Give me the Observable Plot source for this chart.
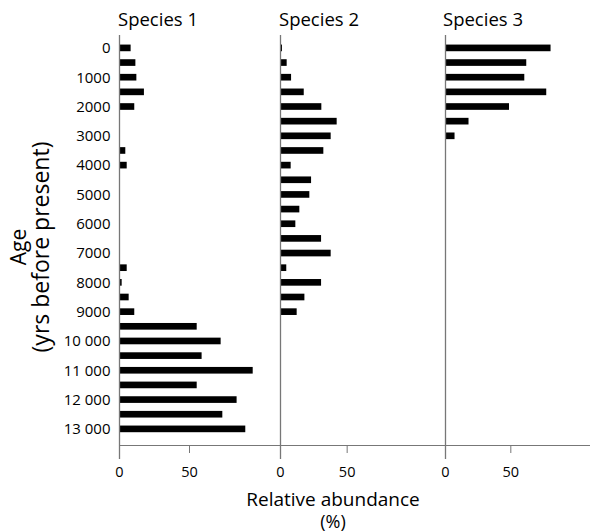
<!DOCTYPE html>
<html><head><meta charset="utf-8">
<script src="https://cdn.jsdelivr.net/npm/d3@7"></script>
<script src="https://cdn.jsdelivr.net/npm/@observablehq/plot@0.6"></script>
<style>
body{margin:0;background:#fff;font-family:"Open Sans",sans-serif;}
#chart{position:relative;width:590px;height:532px;overflow:hidden;background:#fff}
#chart svg{position:absolute;top:0;overflow:visible;background:none}
</style></head><body><div id="chart"></div>
<script>
// ---- data ----
const ages = [0,500,1000,1500,2000,2500,3000,3500,4000,4500,5000,5500,6000,6500,7000,7500,8000,8500,9000,9500,10000,10500,11000,11500,12000,12500,13000];
const species1 = [8.3,11.7,12.4,17.8,10.9,0,0,4.5,5.5,0,0,0,0,0,0,5.5,1.9,6.9,10.9,55.5,72.6,59,95.5,55.5,84,73.8,90.2];
const species2 = [1.5,5,8.3,17.8,31,42.5,38,32.5,8,23.3,22,14.5,11.5,30.8,38,4.7,30.8,18.3,12.5,0,0,0,0,0,0,0,0];
const species3 = [80.8,62.2,60.7,77.5,49,18,7.3,0,0,0,0,0,0,0,0,0,0,0,0,0,0,0,0,0,0,0,0];
const speciesNames = ["Species 1","Species 2","Species 3"];
const ageTicks = [0,1000,2000,3000,4000,5000,6000,7000,8000,9000,10000,11000,12000,13000];
const ageTickLabels = ["0","1000","2000","3000","4000","5000","6000","7000","8000","9000","10 000","11 000","12 000","13 000"];
const abundanceTicks = [0,50];
const yTitle = ["Age","(yrs before present)"];
const xTitle = ["Relative abundance","(%)"];

// ---- layout ----
const H = 532, TOP = 35, BOTTOM_Y = 445;
const yDomain = [-440, 13550];
const gray = "#777";
const font = '"Open Sans", sans-serif';
const panels = [
  {values: species1, left: 0,   width: 280, marginLeft: 119, xmax: 115,    yAxis: true},
  {values: species2, left: 270, width: 175, marginLeft: 10,  xmax: 123.75},
  {values: species3, left: 435, width: 155, marginLeft: 10,  xmax: 111}
];
const chart = document.getElementById("chart");

panels.forEach((p, i) => {
  const rows = ages.map((a, k) => ({age: a, v: p.values[k]})).filter(d => d.v > 0);
  const marks = [
    Plot.rectX(rows, {x1: 0, x2: "v", y1: d => d.age - 250, y2: d => d.age + 250, insetTop: 4, insetBottom: 4, fill: "#000"}),
    Plot.ruleY([yDomain[1]], {stroke: gray, strokeWidth: 1.2}),
    Plot.ruleX([0], {y1: yDomain[0], y2: 14030, stroke: gray, strokeWidth: 1.3}),
    Plot.axisX({ticks: abundanceTicks, tickSize: 8, tickPadding: 13, stroke: gray, fill: "#000", fontSize: 14.5, label: null, tickFormat: d => String(d)})
  ];
  if (p.yAxis) {
    marks.push(Plot.axisY({ticks: ageTicks, tickFormat: d => ageTickLabels[ageTicks.indexOf(d)], tickSize: 0, tickPadding: 9, fontSize: 15, fill: "#000", label: null}));
  }
  const svg = Plot.plot({
    width: p.width, height: H,
    marginLeft: p.marginLeft, marginRight: 0, marginTop: TOP, marginBottom: H - BOTTOM_Y,
    style: {fontFamily: font, background: "none", overflow: "visible"},
    x: {domain: [0, p.xmax]},
    y: {domain: yDomain, reverse: true, axis: null},
    marks
  });
  svg.style.left = p.left + "px";
  chart.appendChild(svg);
});

// ---- titles overlay ----
const ov = d3.select(chart).append("svg")
  .attr("width", 590).attr("height", 532)
  .style("left", "0px").style("pointer-events", "none")
  .style("font-family", font).style("fill", "#000");
const titleX = [118, 279, 443];
speciesNames.forEach((n, i) => {
  ov.append("text").attr("x", titleX[i]).attr("y", 26).attr("font-size", 18.5).text(n);
});
const yt = ov.append("text").attr("transform", "translate(26,247) rotate(-90)").attr("text-anchor", "middle");
yt.append("tspan").attr("x", 0).attr("y", 0).attr("font-size", 21).text(yTitle[0]);
yt.append("tspan").attr("x", 0).attr("y", 23).attr("font-size", 23).text(yTitle[1]);
const xt = ov.append("text").attr("text-anchor", "middle");
xt.append("tspan").attr("x", 333).attr("y", 506).attr("font-size", 19).text(xTitle[0]);
xt.append("tspan").attr("x", 333).attr("y", 528).attr("font-size", 18).text(xTitle[1]);
</script></body></html>
